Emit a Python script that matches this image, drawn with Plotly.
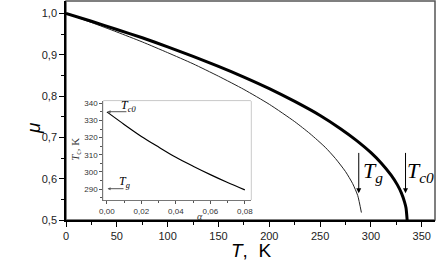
import plotly.graph_objects as go

# Main chart data
T_c0_curve = [0, 25, 50, 75, 100, 125, 150, 175, 200, 225, 250, 270, 285, 300, 310, 320, 326, 330, 333, 334.5, 335.6]
mu_c0_curve = [1.0, 0.981, 0.961, 0.941, 0.919, 0.896, 0.872, 0.846, 0.818, 0.787, 0.753, 0.721, 0.694, 0.663, 0.638, 0.608, 0.585, 0.565, 0.544, 0.529, 0.5]

T_g_curve = [0, 25, 50, 75, 100, 125, 150, 175, 200, 225, 240, 255, 265, 275, 282, 287, 290.6]
mu_g_curve = [1.0, 0.978, 0.955, 0.931, 0.905, 0.878, 0.848, 0.816, 0.780, 0.738, 0.709, 0.676, 0.649, 0.617, 0.588, 0.559, 0.518]

# Inset data
alpha = [0, 0.01, 0.02, 0.03, 0.04, 0.05, 0.06, 0.07, 0.08]
Tc_alpha = [335, 327.7, 320.7, 314.5, 308.5, 303.3, 298.4, 293.8, 289.5]

main_yticks = [0.5, 0.6, 0.7, 0.8, 0.9, 1.0]
main_yticklabels = ["0,5", "0,6", "0,7", "0,8", "0,9", "1,0"]
main_xticks = [0, 50, 100, 150, 200, 250, 300, 350]
inset_xticks = [0, 0.02, 0.04, 0.06, 0.08]
inset_xticklabels = ["0,00", "0,02", "0,04", "0,06", "0,08"]
inset_yticks = [290, 300, 310, 320, 330, 340]

fig = go.Figure()
fig.add_trace(go.Scatter(x=T_g_curve, y=mu_g_curve, mode="lines",
                         line=dict(color="#222", width=1, shape="spline", smoothing=0.6), showlegend=False))
fig.add_trace(go.Scatter(x=T_c0_curve, y=mu_c0_curve, mode="lines",
                         line=dict(color="black", width=3, shape="spline", smoothing=0.6), showlegend=False))
fig.add_trace(go.Scatter(x=alpha, y=Tc_alpha, mode="lines", xaxis="x2", yaxis="y2",
                         line=dict(color="black", width=1.2, shape="spline", smoothing=0.8), showlegend=False))

tickfont = dict(family="Arial, Liberation Sans", size=11, color="#222")
insetfont = dict(family="Arial, Liberation Sans", size=8, color="#333")

fig.update_layout(
    width=436, height=270,
    margin=dict(l=66, r=1, t=1, b=50, autoexpand=False),
    paper_bgcolor="white", plot_bgcolor="white",
    xaxis=dict(range=[0, 363], tickvals=main_xticks, ticks="outside", ticklen=5,
               showline=True, linecolor="black", linewidth=1.5, showgrid=False, zeroline=False,
               tickfont=tickfont, tickcolor="black",
               minor=dict(dtick=25, tick0=0, ticks="outside", ticklen=3, tickcolor="black")),
    yaxis=dict(range=[0.5, 1.03], tickvals=main_yticks, ticktext=main_yticklabels,
               ticks="outside", ticklen=5,
               showline=True, linecolor="black", linewidth=1.5, showgrid=False, zeroline=False,
               tickfont=tickfont, tickcolor="black",
               minor=dict(dtick=0.05, tick0=0.5, ticks="outside", ticklen=3, tickcolor="black")),
    xaxis2=dict(domain=[0.101, 0.501], anchor="y2", range=[-0.0021, 0.0835],
                tickvals=inset_xticks, ticktext=inset_xticklabels, ticks="outside", ticklen=3,
                showline=True, linecolor="#777", linewidth=1, showgrid=False, zeroline=False,
                tickfont=insetfont, tickcolor="#555",
                minor=dict(dtick=0.01, tick0=0, ticks="outside", ticklen=2, tickcolor="#555")),
    yaxis2=dict(domain=[0.0913, 0.543], anchor="x2", range=[283.6, 341.3],
                tickvals=inset_yticks, ticks="outside", ticklen=3,
                showline=True, linecolor="#777", linewidth=1, showgrid=False, zeroline=False,
                tickfont=insetfont, tickcolor="#555",
                minor=dict(dtick=5, tick0=290, ticks="outside", ticklen=2, tickcolor="#555")),
)

# Axis titles
fig.add_annotation(x=0.501, y=-0.137, xref="paper", yref="paper", text="<i>T</i>,  K",
                   xanchor="center", yanchor="middle",
                   showarrow=False, font=dict(family="Arial, Liberation Sans", size=19, color="black"))
fig.add_annotation(x=-0.0894, y=0.42, xref="paper", yref="paper", text="<i>μ</i>", textangle=-90,
                   xanchor="center", yanchor="middle",
                   showarrow=False, font=dict(family="Arial, Liberation Sans", size=19, color="black"))

# Frame lines (top/right) for main and inset
fig.add_shape(type="rect", xref="paper", yref="paper", x0=0, x1=1, y0=0, y1=1,
              line=dict(color="#555", width=1.5), layer="below")
fig.add_shape(type="rect", xref="paper", yref="paper", x0=0.101, x1=0.501, y0=0.0913, y1=0.543,
              line=dict(color="#888", width=1), fillcolor="white", layer="below")

serif = "Liberation Serif, Times New Roman, serif"

# Main vertical arrows
for xv in [288, 334]:
    fig.add_annotation(x=xv, y=0.565, ax=xv, ay=0.666, xref="x", yref="y", axref="x", ayref="y",
                       text="", showarrow=True, arrowhead=2, arrowsize=1, arrowwidth=1, arrowcolor="black")
fig.add_annotation(x=302, y=0.615, xref="x", yref="y", text="<i>T</i><sub><i>g</i></sub>",
                   showarrow=False, font=dict(family=serif, size=22, color="black"), xanchor="center")
fig.add_annotation(x=349, y=0.615, xref="x", yref="y", text="<i>T</i><sub><i>c0</i></sub>",
                   showarrow=False, font=dict(family=serif, size=22, color="black"), xanchor="center")

# Inset horizontal arrows
fig.add_annotation(x=0.0004, y=335.1, ax=0.0122, ay=335.1, xref="x2", yref="y2", axref="x2", ayref="y2",
                   text="", showarrow=True, arrowhead=2, arrowsize=0.6, arrowwidth=1, arrowcolor="#555")
fig.add_annotation(x=0.0004, y=290.2, ax=0.0105, ay=290.2, xref="x2", yref="y2", axref="x2", ayref="y2",
                   text="", showarrow=True, arrowhead=2, arrowsize=0.6, arrowwidth=1, arrowcolor="#555")
fig.add_annotation(x=0.0125, y=338.5, xref="x2", yref="y2", text="<i>T</i><sub><i>c0</i></sub>",
                   showarrow=False, font=dict(family=serif, size=12, color="black"))
fig.add_annotation(x=0.0105, y=294.3, xref="x2", yref="y2", text="<i>T</i><sub><i>g</i></sub>",
                   showarrow=False, font=dict(family=serif, size=12, color="black"))

# Inset axis titles
fig.add_annotation(x=0.054, y=283.6, xref="x2", yref="y2", yshift=-16, text="<i>α</i>",
                   showarrow=False, font=dict(family=serif, size=10, color="#333"))
fig.add_annotation(x=-0.0021, y=313, xref="x2", yref="y2", xshift=-28, text="<i>T</i><sub>c</sub>, K",
                   textangle=-90, showarrow=False, font=dict(family=serif, size=11, color="#333"))

fig.write_html("out.html", post_script="document.body.style.margin='0px';",
               config={"displayModeBar": False})
